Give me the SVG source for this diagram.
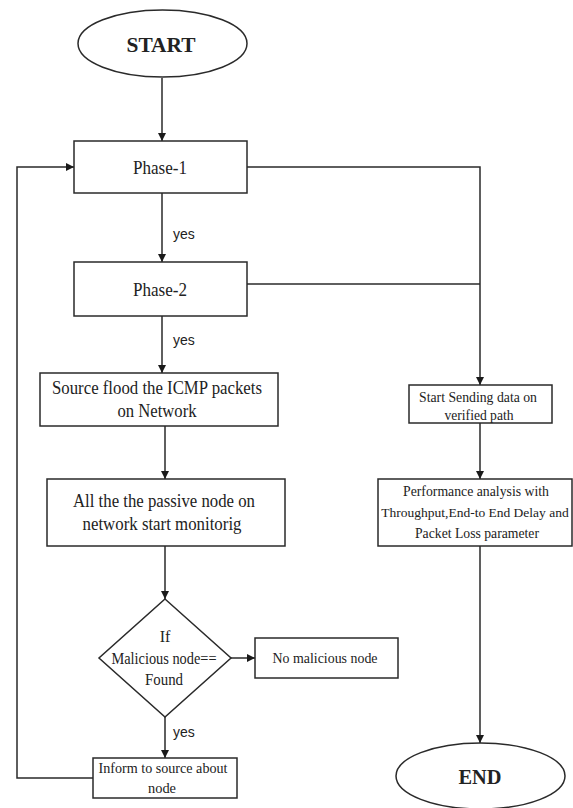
<svg xmlns="http://www.w3.org/2000/svg" width="573" height="808" viewBox="0 0 573 808">
<style>
.shape{fill:#fff;stroke:#2a2a2a;stroke-width:1.5}
.t{font-family:"Liberation Serif","Times New Roman",serif;fill:#222;text-anchor:middle}
.b{font-weight:bold}
.lbl{font-family:"Liberation Sans",Arial,sans-serif;font-size:14px;fill:#222}
.c{fill:none;stroke:#2a2a2a;stroke-width:1.5}
</style>
<defs>
<marker id="ah" viewBox="0 0 10 10" refX="10" refY="5" markerWidth="8" markerHeight="8" markerUnits="userSpaceOnUse" orient="auto">
<path d="M0,0 L10,5 L0,10 z" fill="#1a1a1a"/>
</marker>
</defs>
<rect width="573" height="808" fill="#fff"/>
<g id="connectors">
<line class="c" x1="162" y1="78" x2="162" y2="141" marker-end="url(#ah)"/>
<line class="c" x1="162" y1="193" x2="162" y2="262" marker-end="url(#ah)"/>
<line class="c" x1="162" y1="316" x2="162" y2="373" marker-end="url(#ah)"/>
<line class="c" x1="165" y1="426" x2="165" y2="479" marker-end="url(#ah)"/>
<line class="c" x1="165" y1="546" x2="165" y2="599" marker-end="url(#ah)"/>
<line class="c" x1="231" y1="658" x2="255" y2="658" marker-end="url(#ah)"/>
<line class="c" x1="165" y1="717" x2="165" y2="758" marker-end="url(#ah)"/>
<polyline class="c" points="93,778 17,778 17,167 74,167" marker-end="url(#ah)"/>
<polyline class="c" points="247,167 480,167 480,385" marker-end="url(#ah)"/>
<line class="c" x1="247" y1="284" x2="480" y2="284"/>
<line class="c" x1="480" y1="423" x2="480" y2="479" marker-end="url(#ah)"/>
<line class="c" x1="480" y1="546" x2="480" y2="743" marker-end="url(#ah)"/>
<text class="lbl" x="173" y="239">yes</text>
<text class="lbl" x="173" y="345">yes</text>
<text class="lbl" x="173" y="737">yes</text>
</g>
<g id="start">
<ellipse class="shape" cx="162.5" cy="43.5" rx="84.5" ry="33.5"/>
<text class="t b" x="161" y="52" font-size="22" textLength="69" lengthAdjust="spacingAndGlyphs">START</text>
</g>
<g id="phase1">
<rect class="shape" x="74" y="141" width="173" height="52"/>
<text class="t" x="160" y="174" font-size="19" textLength="54" lengthAdjust="spacingAndGlyphs">Phase-1</text>
</g>
<g id="phase2">
<rect class="shape" x="74" y="262" width="173" height="54"/>
<text class="t" x="160" y="296" font-size="19" textLength="54" lengthAdjust="spacingAndGlyphs">Phase-2</text>
</g>
<g id="flood">
<rect class="shape" x="40" y="373" width="238" height="53"/>
<text class="t" x="157" y="394" font-size="19" textLength="210" lengthAdjust="spacingAndGlyphs">Source flood the ICMP packets</text>
<text class="t" x="157" y="417" font-size="19" textLength="79" lengthAdjust="spacingAndGlyphs">on Network</text>
</g>
<g id="passive">
<rect class="shape" x="47" y="479" width="238" height="67"/>
<text class="t" x="164" y="507" font-size="19" textLength="182" lengthAdjust="spacingAndGlyphs">All the the passive node on</text>
<text class="t" x="162" y="530" font-size="19" textLength="159" lengthAdjust="spacingAndGlyphs">network start monitorig</text>
</g>
<g id="decision">
<polygon class="shape" points="165,599 231,658 165,717 99,658"/>
<text class="t" x="165" y="642" font-size="16">If</text>
<text class="t" x="164" y="664" font-size="16" textLength="105" lengthAdjust="spacingAndGlyphs">Malicious node==</text>
<text class="t" x="164" y="685" font-size="16" textLength="38" lengthAdjust="spacingAndGlyphs">Found</text>
</g>
<g id="nomal">
<rect class="shape" x="255" y="638" width="143" height="40"/>
<text class="t" x="325" y="663" font-size="15.5" textLength="105" lengthAdjust="spacingAndGlyphs">No malicious node</text>
</g>
<g id="inform">
<rect class="shape" x="93" y="758" width="144" height="40"/>
<text class="t" x="163" y="773" font-size="15.5" textLength="129" lengthAdjust="spacingAndGlyphs">Inform to source about</text>
<text class="t" x="162" y="793" font-size="15.5" textLength="28" lengthAdjust="spacingAndGlyphs">node</text>
</g>
<g id="sending">
<rect class="shape" x="409" y="385" width="143" height="38"/>
<text class="t" x="478" y="402" font-size="15.5" textLength="118" lengthAdjust="spacingAndGlyphs">Start Sending data on</text>
<text class="t" x="479" y="420" font-size="15.5" textLength="69" lengthAdjust="spacingAndGlyphs">verified path</text>
</g>
<g id="perf">
<rect class="shape" x="378" y="479" width="194" height="67"/>
<text class="t" x="476" y="496" font-size="15" textLength="146" lengthAdjust="spacingAndGlyphs">Performance analysis with</text>
<text class="t" x="475" y="517" font-size="13.5">Throughput,End-to End Delay and</text>
<text class="t" x="477" y="538" font-size="15" textLength="124" lengthAdjust="spacingAndGlyphs">Packet Loss parameter</text>
</g>
<g id="end">
<ellipse class="shape" cx="480.5" cy="776" rx="84.5" ry="33"/>
<text class="t b" x="480" y="784" font-size="21" textLength="43" lengthAdjust="spacingAndGlyphs">END</text>
</g>
</svg>
